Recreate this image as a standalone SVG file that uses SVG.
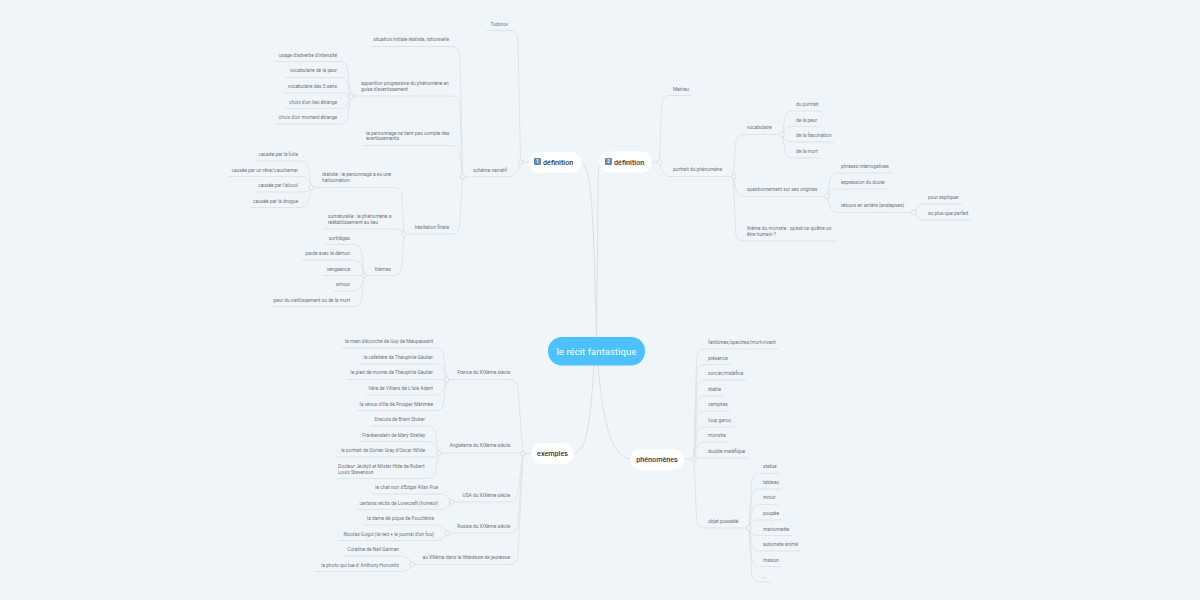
<svg xmlns="http://www.w3.org/2000/svg" width="1200" height="600" viewBox="0 0 1200 600">
<style>
text{font-family:Roboto,"Liberation Sans",sans-serif;font-size:4.85px;fill:#707478;opacity:.99}
.r{text-anchor:end}
.main{font-size:7.2px;font-weight:500;fill:#33363a}
.root{font-size:9.6px;fill:#fff;text-anchor:middle;letter-spacing:.03px}
.pill{fill:#fff}
.badge{fill:#5f8db5}
.bt{font-size:5px;fill:#fff;text-anchor:middle;font-weight:700}
#connectors path{fill:none;stroke:#dde2e6;stroke-width:.9}
#connectors .t{stroke:#dbe0e4;stroke-width:1}
#connectors circle{fill:#f0f5f9;stroke:#d6dbdf;stroke-width:.8}
</style>
<rect width="1200" height="600" fill="#f0f5f9"/>
<g id="connectors">
<path class="t" d="M581 162C590 165 592 200 594 250L596.5 337"/>
<path class="t" d="M599 164C598 170 598 200 597.5 250L596.5 337"/>
<path class="t" d="M574 453.5C585 452 590 430 594 365"/>
<path class="t" d="M630 459C612 456 603 425 598 365"/>
<path class="t" d="M529 162H520.5M652 162H659.5M531 453.5H523M684 459H694"/>
<path d="M486 30.5H510Q517.5 30.5 518 40.5L520.5 162"/>
<path d="M463 176.7H510Q518 176.7 520.5 162"/>
<path d="M370 46.5H452Q459.5 46.5 460 56.5L462.5 176.7"/>
<path d="M350.5 96H452Q459.5 96 460 106L462.5 176.7"/>
<path d="M362 145.5H452Q459.5 145.5 460 155.5L462.5 176.7"/>
<path d="M404 234H452Q459.5 234 460 224L462.5 176.7"/>
<path d="M275 61.5H340Q347.5 61.5 348 71.5L350.5 96"/>
<path d="M285 77.5H340Q347.5 77.5 348 86L350.5 96"/>
<path d="M283 93H345Q348 93 350.5 96"/>
<path d="M285 108.5H340Q347.5 108.5 350.5 96"/>
<path d="M275 124H340Q347.5 124 348 114L350.5 96"/>
<path d="M312 187.5H394Q401.5 187.5 402 197.5L404 234"/>
<path d="M324 229H397Q401 229 404 234"/>
<path d="M364 275.5H394Q401.5 275.5 402 265.5L404 234"/>
<path d="M256 161H301Q308.5 161 309 171L311.5 187.5"/>
<path d="M228 176.5H303Q308.5 176.5 311.5 187.5"/>
<path d="M255 192H306Q309 192 311.5 187.5"/>
<path d="M250 207.5H301Q308.5 207.5 311.5 187.5"/>
<path d="M325 244.5H354Q361.5 244.5 362 254.5L364 275.5"/>
<path d="M302 260H354Q361.5 260 362 268L364 275.5"/>
<path d="M323 275.5H364"/>
<path d="M333 291H354Q361.5 291 364 275.5"/>
<path d="M271 306.5H354Q361.5 306.5 362 296.5L364 275.5"/>
<path d="M692 95.5H669Q662 95.5 661.5 105.5L659.5 162"/>
<path d="M733.5 176.5H669Q662 176.5 659.5 162"/>
<path d="M782 134.5H743Q736 134.5 735.5 144.5L733.5 176.5"/>
<path d="M827 196.5H743Q736 196.5 733.5 176.5"/>
<path d="M837 241H743Q736 241 735.5 231L733.5 176.5"/>
<path d="M822 111H792Q785 111 784.5 121L782 134.5"/>
<path d="M820 126.5H790Q785 126.5 782 134.5"/>
<path d="M834 142H790Q785 142 782 134.5"/>
<path d="M821 158H792Q785 158 784.5 148L782 134.5"/>
<path d="M892 173H837Q830 173 829.5 183L827 196.5"/>
<path d="M888 189H835Q830 189 827 196.5"/>
<path d="M914 212.5H837Q830 212.5 827 196.5"/>
<path d="M962 204H924Q919 204 914 212.5"/>
<path d="M971 220H924Q919 220 914 212.5"/>
<path d="M446.5 379.5H510Q517.5 379.5 518 389.5L523 453.5"/>
<path d="M438.7 453H523"/>
<path d="M451.5 502H510Q517.5 502 518 492L523 453.5"/>
<path d="M447.5 533H510Q517.5 533 518 523L523 453.5"/>
<path d="M412.5 564.5H510Q517.5 564.5 518 554.5L523 453.5"/>
<path d="M342 348H436Q443.5 348 444 358L446.5 379.5"/>
<path d="M360 364H436Q443.5 364 446.5 379.5"/>
<path d="M347 379.5H446.5"/>
<path d="M366 395H436Q443.5 395 446.5 379.5"/>
<path d="M357 410.5H436Q443.5 410.5 444 400.5L446.5 379.5"/>
<path d="M371 426H428Q435.5 426 436 436L438.7 453"/>
<path d="M359 441.5H428Q435.5 441.5 438.7 453"/>
<path d="M336 457H432Q436 457 438.7 453"/>
<path d="M336 478.5H428Q435.5 478.5 436 468.5L438.7 453"/>
<path d="M372 494H441Q447 494 451.5 502"/>
<path d="M355 509.5H441Q447 509.5 451.5 502"/>
<path d="M363 525H437Q443 525 447.5 533"/>
<path d="M339 540.5H437Q443 540.5 447.5 533"/>
<path d="M343 556H402Q408 556 412.5 564.5"/>
<path d="M315 571.5H402Q408 571.5 412.5 564.5"/>
<path d="M779 349H704Q697 349 696.5 359L694 459"/>
<path d="M731 364.5H704Q697 364.5 696.5 374.5L694 459"/>
<path d="M746 380H704Q697 380 696.5 390L694 459"/>
<path d="M724 396H704Q697 396 696.5 406L694 459"/>
<path d="M730 411H704Q697 411 696.5 421L694 459"/>
<path d="M734 427H704Q697 427 696.5 437L694 459"/>
<path d="M729 442H704Q697 442 696 450L694 459"/>
<path d="M748 458H698Q696 458 694 459"/>
<path d="M749 528H704Q697 528 696.5 518L694 459"/>
<path d="M780 473.5H759Q752 473.5 751.5 483.5L749 528"/>
<path d="M782 489H759Q752 489 751.5 499L749 528"/>
<path d="M778 504.5H759Q752 504.5 751.5 514.5L749 528"/>
<path d="M782 520H755Q752 520 749 528"/>
<path d="M792 535.5H755Q752 535.5 749 528"/>
<path d="M801 551H759Q752 551 751.5 541L749 528"/>
<path d="M781 566.5H759Q752 566.5 751.5 556.5L749 528"/>
<path d="M771 582H759Q752 582 751.5 572L749 528"/>
<circle cx="520.5" cy="162" r="2.4"/><circle cx="462.5" cy="176.7" r="2.4"/><circle cx="350.5" cy="96" r="2.4"/><circle cx="404" cy="234" r="2.4"/><circle cx="311.5" cy="187.5" r="2.4"/><circle cx="364" cy="275.5" r="2.4"/>
<circle cx="659.5" cy="162" r="2.4"/><circle cx="733.5" cy="176.5" r="2.4"/><circle cx="782" cy="134.5" r="2.4"/><circle cx="827" cy="196.5" r="2.4"/><circle cx="914" cy="212.5" r="2.4"/>
<circle cx="523" cy="453.5" r="2.4"/><circle cx="446.5" cy="379.5" r="2.4"/><circle cx="438.7" cy="453" r="2.4"/><circle cx="451.5" cy="502" r="2.4"/><circle cx="447.5" cy="533" r="2.4"/><circle cx="412.5" cy="564.5" r="2.4"/>
<circle cx="694" cy="459" r="2.4"/><circle cx="749" cy="528" r="2.4"/>
</g>
<g id="root"><rect x="548" y="337" width="97" height="28.5" rx="14" fill="#4cc1fd"/><text class="root" x="596.5" y="354.7">le récit fantastique</text></g>
<g id="def1"><rect class="pill" x="529" y="152" width="52.500" height="21" rx="10.500"/><rect class="badge" x="534" y="158" width="7" height="7" rx="1"/><text class="bt" x="537.500" y="163.300">1</text><text class="main" x="543" y="165">définition</text></g>
<g id="def2"><rect class="pill" x="599" y="151.500" width="53" height="21" rx="10.500"/><rect class="badge" x="605" y="158" width="7" height="7" rx="1"/><text class="bt" x="608.500" y="163.300">2</text><text class="main" x="614" y="165">définition</text></g>
<g id="exemples"><rect class="pill" x="531" y="443" width="43" height="21" rx="10.500"/><text class="main" x="552.500" y="456" text-anchor="middle">exemples</text></g>
<g id="phenomenes"><rect class="pill" x="630" y="449" width="54" height="21" rx="10.500"/><text class="main" x="657" y="461.500" text-anchor="middle">phénomènes</text></g>
<g id="n-todorov"><text class="r" x="508" y="26">Todorov</text></g>
<g id="n-schema"><text class="r" x="507" y="172">schéma narratif</text></g>
<g id="n-situation"><text class="r" x="449" y="41">situation initiale réaliste, rationnelle</text></g>
<g id="n-apparition"><text x="361" y="85">apparition progressive du phénomène en</text><text x="361" y="91">guise d'avertissement</text></g>
<g id="n-personnage"><text x="366" y="135">le personnage ne tient pas compte des</text><text x="366" y="140">avertissements</text></g>
<g id="n-hesitation"><text class="r" x="449" y="229">hésitation finale</text></g>
<g id="n-a1"><text class="r" x="337" y="57">usage d'adverbe d'intensité</text></g>
<g id="n-a2"><text class="r" x="337" y="72">vocabulaire de la peur</text></g>
<g id="n-a3"><text class="r" x="337" y="88">vocabulaire des 5 sens</text></g>
<g id="n-a4"><text class="r" x="337" y="104">choix d'un lieu étrange</text></g>
<g id="n-a5"><text class="r" x="337" y="119">choix d'un moment étrange</text></g>
<g id="n-realiste"><text x="322" y="176">réaliste : le personnage a eu une</text><text x="322" y="182">hallucination</text></g>
<g id="n-surnaturelle"><text x="328" y="218">surnaturelle : le phénomène a</text><text x="328" y="224">réétablissement au lieu</text></g>
<g id="n-themes"><text class="r" x="391" y="271">thèmes</text></g>
<g id="n-r1"><text class="r" x="298" y="156">causée par la folie</text></g>
<g id="n-r2"><text class="r" x="298" y="172">causée par un rêve/cauchemar</text></g>
<g id="n-r3"><text class="r" x="298" y="187">causée par l'alcool</text></g>
<g id="n-r4"><text class="r" x="298" y="203">causée par la drogue</text></g>
<g id="n-t1"><text class="r" x="350" y="240">sortilèges</text></g>
<g id="n-t2"><text class="r" x="350" y="255">pacte avec le démon</text></g>
<g id="n-t3"><text class="r" x="350" y="271">vengeance</text></g>
<g id="n-t4"><text class="r" x="350" y="286">amour</text></g>
<g id="n-t5"><text class="r" x="350" y="302">peur du vieillissement ou de la mort</text></g>
<g id="n-meirieu"><text x="673" y="91">Meirieu</text></g>
<g id="n-portrait"><text x="673" y="171">portrait du phénomène</text></g>
<g id="n-vocab"><text x="747" y="129">vocabulaire</text></g>
<g id="n-quest"><text x="747" y="191">questionnement sur ses origines</text></g>
<g id="n-theme"><text x="747" y="230">thème du monstre : qu'est-ce qu'être un</text><text x="747" y="236">être humain ?</text></g>
<g id="n-v1"><text x="796" y="106">du portrait</text></g>
<g id="n-v2"><text x="796" y="122">de la peur</text></g>
<g id="n-v3"><text x="796" y="137">de la fascination</text></g>
<g id="n-v4"><text x="796" y="153">de la mort</text></g>
<g id="n-q1"><text x="841" y="168">phrases interrogatives</text></g>
<g id="n-q2"><text x="841" y="184">expression du doute</text></g>
<g id="n-q3"><text x="841" y="207">retours en arrière (analepses)</text></g>
<g id="n-p1"><text x="928" y="199">pour expliquer</text></g>
<g id="n-p2"><text x="928" y="215">au plus-que parfait</text></g>
<g id="n-france"><text class="r" x="510" y="374">France du XIXème siècle</text></g>
<g id="n-angleterre"><text class="r" x="510" y="447">Angleterre du XIXème siècle</text></g>
<g id="n-usa"><text class="r" x="510" y="497">USA du XIXème siècle</text></g>
<g id="n-russie"><text class="r" x="510" y="528">Russie du XIXème siècle</text></g>
<g id="n-xx"><text class="r" x="510" y="559">au XXème dans la littérature de jeunesse</text></g>
<g id="n-f1"><text class="r" x="433" y="343">la main d'écorché de Guy de Maupassant</text></g>
<g id="n-f2"><text class="r" x="433" y="359">la cafetière de Théophile Gautier</text></g>
<g id="n-f3"><text class="r" x="433" y="374">le pied de momie de Théophile Gautier</text></g>
<g id="n-f4"><text class="r" x="433" y="390">Véra de Villiers de L'Isle Adam</text></g>
<g id="n-f5"><text class="r" x="433" y="406">la vénus d'Ille de Prosper Mérimée</text></g>
<g id="n-e1"><text class="r" x="425" y="421">Dracula de Bram Stoker</text></g>
<g id="n-e2"><text class="r" x="425" y="437">Frankenstein de Mary Shelley</text></g>
<g id="n-e3"><text class="r" x="425" y="452">le portrait de Dorian Gray d'Oscar Wilde</text></g>
<g id="n-e4"><text x="338" y="468">Docteur Jeckyll et Mister Hide de Robert</text><text x="338" y="474">Louis Stevenson</text></g>
<g id="n-u1"><text class="r" x="438" y="489">le chat noir d'Edgar Allan Poe</text></g>
<g id="n-u2"><text class="r" x="438" y="505">certains récits de Lovecraft (horreur)</text></g>
<g id="n-ru1"><text class="r" x="434" y="520">la dame de pique de Pouchkine</text></g>
<g id="n-ru2"><text class="r" x="434" y="536">Nicolas Gogol (le nez + le journal d'un fou)</text></g>
<g id="n-x1"><text class="r" x="399" y="551">Coraline de Neil Gaiman</text></g>
<g id="n-x2"><text class="r" x="399" y="567">la photo qui tue d' Anthony Horowitz</text></g>
<g id="n-ph1"><text x="708" y="344">fantômes/spectres/mort-vivant</text></g>
<g id="n-ph2"><text x="708" y="360">présence</text></g>
<g id="n-ph3"><text x="708" y="375">sorcier/maléfice</text></g>
<g id="n-ph4"><text x="708" y="391">diable</text></g>
<g id="n-ph5"><text x="708" y="406">vampires</text></g>
<g id="n-ph6"><text x="708" y="422">loup garou</text></g>
<g id="n-ph7"><text x="708" y="437">monstre</text></g>
<g id="n-ph8"><text x="708" y="453">double maléfique</text></g>
<g id="n-objet"><text x="708" y="523">objet possédé</text></g>
<g id="n-o1"><text x="763" y="468">statue</text></g>
<g id="n-o2"><text x="763" y="484">tableau</text></g>
<g id="n-o3"><text x="763" y="499">miroir</text></g>
<g id="n-o4"><text x="763" y="515">poupée</text></g>
<g id="n-o5"><text x="763" y="531">marionnette</text></g>
<g id="n-o6"><text x="763" y="546">automate animé</text></g>
<g id="n-o7"><text x="763" y="562">maison</text></g>
<g id="n-o8"><text x="763" y="578">…</text></g>
</svg>
